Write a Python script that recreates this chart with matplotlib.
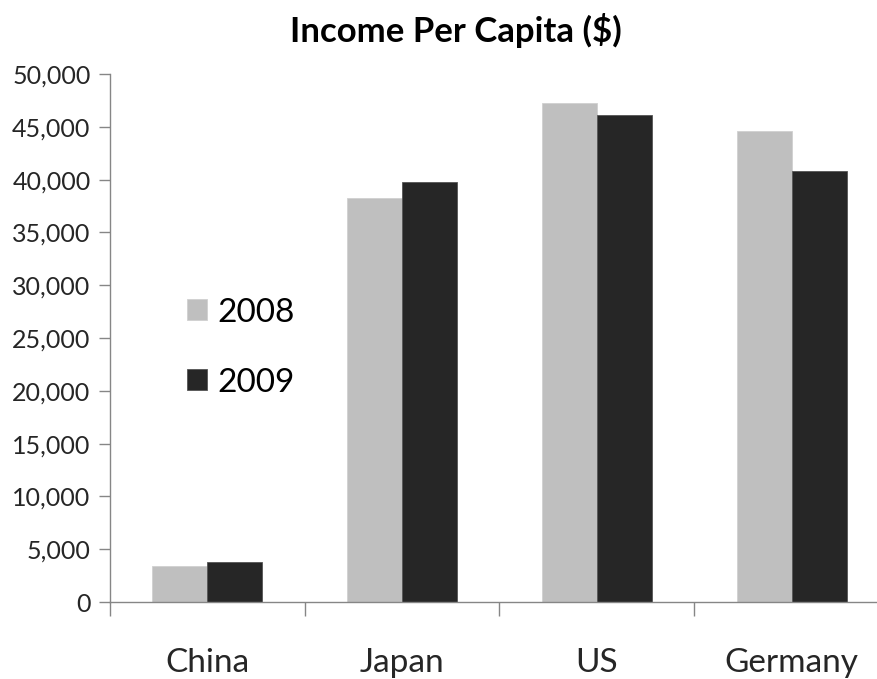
import numpy as np
import matplotlib
matplotlib.use('Agg')
import matplotlib.pyplot as plt
import matplotlib.ticker as ticker

plt.rcParams['font.family'] = ['Lato', 'DejaVu Sans']

# 数据
countries = ['China', 'Japan', 'US', 'Germany']
years = ['2008', '2009']
income_2008 = [3440, 38290, 47250, 44570]
income_2009 = [3820, 39740, 46090, 40840]

colors = {'2008': '#bfbfbf', '2009': '#262626'}
axis_color = '#868686'
text_color = '#262626'

fig = plt.figure(figsize=(8.78, 6.79), dpi=100)
ax = fig.add_axes([110 / 878, 1 - 602 / 679, 779 / 878, 528 / 679])

x = np.arange(len(countries))
w = 0.283  # 柱宽
ax.bar(x - w / 2, income_2008, w, color=colors['2008'], edgecolor='#d0d0d0', linewidth=0.6, label=years[0])
ax.bar(x + w / 2, income_2009, w, color=colors['2009'], edgecolor='#555555', linewidth=0.6, label=years[1])

ax.set_xlim(-0.5, len(countries) - 0.5)
ax.set_ylim(0, 50000)

# 坐标轴
for s in ['top', 'right']:
    ax.spines[s].set_visible(False)
for s in ['left', 'bottom']:
    ax.spines[s].set_color(axis_color)
    ax.spines[s].set_linewidth(1.0)

ax.yaxis.set_major_locator(ticker.MultipleLocator(5000))
ax.yaxis.set_major_formatter(ticker.FuncFormatter(lambda v, p: f'{int(v):,}'))
ax.tick_params(axis='y', direction='out', length=8, width=1.0, color=axis_color,
               labelsize=18, labelcolor=text_color, pad=6)

ax.set_xticks(x)
ax.set_xticklabels(countries)
ax.set_xticks(np.arange(len(countries) + 1) - 0.5, minor=True)
ax.tick_params(axis='x', which='major', length=0, labelsize=24, labelcolor=text_color, pad=33)
ax.tick_params(axis='x', which='minor', direction='out', length=10, width=1.0, color=axis_color)

# 标题
fig.text(456 / 878, 1 - 30 / 679, 'Income Per Capita ($)', ha='center', va='center',
         fontsize=25, fontweight='bold', color='black')

# 图例
ax.legend(loc='center left', bbox_to_anchor=(0.099, 0.482), frameon=False, fontsize=24,
          handlelength=0.6, handleheight=0.6, handletextpad=0.3, labelspacing=1.2,
          borderaxespad=0, borderpad=0)

fig.savefig('out.png', dpi=100)
